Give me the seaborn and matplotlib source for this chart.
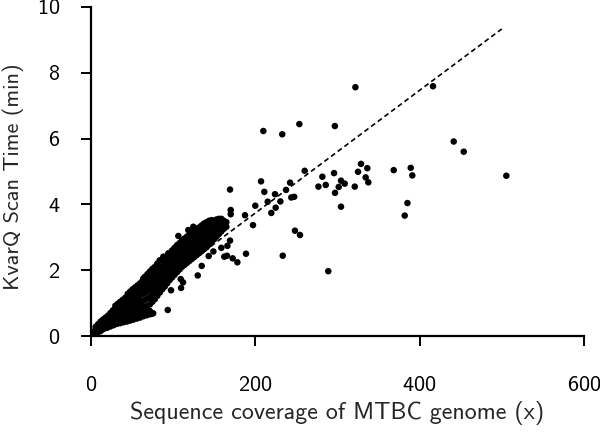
import pandas as pd
import matplotlib
matplotlib.use('Agg')
import matplotlib.pyplot as plt
import seaborn as sns

# dense main band of samples (coverage, minutes)
band = [
    (3, 0.05), (3, 0.12),
    (6, 0.08), (6, 0.2), (6, 0.28),
    (9, 0.12), (9, 0.25), (9, 0.36),
    (12, 0.18), (12, 0.3), (12, 0.44),
    (15, 0.22), (15, 0.36), (15, 0.5),
    (18, 0.3), (18, 0.42), (18, 0.56),
    (21, 0.36), (21, 0.48), (21, 0.62),
    (24, 0.42), (24, 0.56), (24, 0.7),
    (27, 0.5), (27, 0.64), (27, 0.78),
    (30, 0.6), (30, 0.72), (30, 0.84), (30, 0.92),
    (33, 0.65), (33, 0.78), (33, 0.9), (33, 0.98),
    (36, 0.68), (36, 0.82), (36, 0.95), (36, 1.04),
    (39, 0.71), (39, 0.86), (39, 1.0), (39, 1.1),
    (42, 0.73), (42, 0.88), (42, 1.03), (42, 1.16),
    (45, 0.75), (45, 0.9), (45, 1.06), (45, 1.2), (45, 1.28),
    (48, 0.77), (48, 0.93), (48, 1.09), (48, 1.22), (48, 1.35),
    (51, 0.79), (51, 0.96), (51, 1.12), (51, 1.28), (51, 1.42),
    (54, 0.81), (54, 0.98), (54, 1.16), (54, 1.32), (54, 1.48),
    (57, 0.83), (57, 1.0), (57, 1.2), (57, 1.38), (57, 1.54),
    (60, 0.85), (60, 1.03), (60, 1.24), (60, 1.42), (60, 1.6),
    (63, 0.87), (63, 1.06), (63, 1.28), (63, 1.48), (63, 1.68), (64, 1.75),
    (66, 0.89), (66, 1.1), (66, 1.32), (66, 1.52), (66, 1.7), (66, 1.8),
    (69, 0.92), (69, 1.14), (69, 1.36), (69, 1.56), (69, 1.76), (69, 1.88),
    (72, 0.96), (72, 1.18), (72, 1.4), (72, 1.6), (72, 1.8), (72, 1.96),
    (75, 1.04), (75, 1.26), (75, 1.46), (75, 1.66), (75, 1.86), (75, 2.04),
    (78, 1.12), (78, 1.32), (78, 1.52), (78, 1.72), (78, 1.92), (78, 2.1),
    (81, 1.22), (81, 1.42), (81, 1.6), (81, 1.78), (81, 1.98), (81, 2.2),
    (84, 1.32), (84, 1.5), (84, 1.68), (84, 1.86), (84, 2.06), (84, 2.3),
    (87, 1.42), (87, 1.58), (87, 1.76), (87, 1.94), (87, 2.12), (87, 2.32),
    (90, 1.5), (90, 1.66), (90, 1.84), (90, 2.02), (90, 2.2), (90, 2.38),
    (93, 1.6), (93, 1.75), (93, 1.92), (93, 2.1), (93, 2.28), (93, 2.44),
    (96, 1.7), (96, 1.84), (96, 2.0), (96, 2.18), (96, 2.36), (96, 2.52),
    (99, 1.78), (99, 1.92), (99, 2.08), (99, 2.26), (99, 2.44), (99, 2.6),
    (102, 1.86), (102, 2.0), (102, 2.16), (102, 2.34), (102, 2.52), (102, 2.68),
    (105, 1.94), (105, 2.1), (105, 2.26), (105, 2.42), (105, 2.6), (105, 2.76),
    (108, 2.02), (108, 2.18), (108, 2.34), (108, 2.5), (108, 2.66), (108, 2.82),
    (111, 2.1), (111, 2.26), (111, 2.42), (111, 2.58), (111, 2.74), (111, 2.9),
    (114, 2.16), (114, 2.32), (114, 2.48), (114, 2.64), (114, 2.8), (114, 2.96),
    (117, 2.22), (117, 2.38), (117, 2.54), (117, 2.7), (117, 2.86), (117, 3.02),
    (120, 2.28), (120, 2.44), (120, 2.6), (120, 2.76), (120, 2.92), (120, 3.08),
    (123, 2.34), (123, 2.5), (123, 2.66), (123, 2.82), (123, 2.98), (123, 3.14),
    (126, 2.4), (126, 2.56), (126, 2.72), (126, 2.88), (126, 3.04), (126, 3.2),
    (129, 2.46), (129, 2.62), (129, 2.78), (129, 2.94), (129, 3.1), (129, 3.26),
    (132, 2.52), (132, 2.68), (132, 2.84), (132, 3.0), (132, 3.16), (132, 3.3),
    (135, 2.58), (135, 2.74), (135, 2.9), (135, 3.06), (135, 3.22), (135, 3.36),
    (138, 2.64), (138, 2.8), (138, 2.96), (138, 3.12), (138, 3.28), (138, 3.42),
    (141, 2.7), (141, 2.86), (141, 3.02), (141, 3.18), (141, 3.32), (141, 3.46),
    (144, 2.78), (144, 2.94), (144, 3.1), (144, 3.24), (144, 3.38), (144, 3.5),
    (147, 2.86), (147, 3.0), (147, 3.16), (147, 3.3), (147, 3.44), (147, 3.52),
    (150, 2.94), (150, 3.08), (150, 3.22), (150, 3.36), (150, 3.5),
    (153, 3.02), (153, 3.16), (153, 3.3), (153, 3.42), (153, 3.54),
    (156, 3.1), (156, 3.24), (156, 3.38), (156, 3.5), (156, 3.56),
    (159, 3.18), (159, 3.3), (159, 3.44), (159, 3.56),
    (162, 3.26), (162, 3.38), (162, 3.5),
    (165, 3.32), (165, 3.46),
    (106.6, 3.04), (118.7, 3.22), (124.8, 3.32), (88.3, 2.41), (94.4, 2.51),
]

# thin lower band below the main one
lower = [
    (12, 0.15), (12, 0.27), (14, 0.2), (16, 0.22), (16, 0.33), (18, 0.28),
    (20, 0.25), (20, 0.4), (22, 0.33), (24, 0.29), (24, 0.44), (26, 0.37),
    (28, 0.33), (28, 0.49), (30, 0.41), (32, 0.37), (32, 0.52), (34, 0.45),
    (36, 0.39), (36, 0.55), (38, 0.47), (40, 0.42), (40, 0.57), (42, 0.5),
    (44, 0.44), (44, 0.59), (46, 0.52), (48, 0.47), (48, 0.62), (50, 0.55),
    (52, 0.5), (52, 0.64), (54, 0.57), (56, 0.53), (56, 0.66), (58, 0.6),
    (60, 0.56), (60, 0.69), (62, 0.63), (64, 0.6), (64, 0.72), (66, 0.66),
    (68, 0.63), (68, 0.74), (72, 0.66), (72, 0.76), (76, 0.69),
]

# scattered samples
scattered = [
    (74.6, 0.68), (93.7, 0.79), (97.7, 1.39), (109.5, 1.73), (112.3, 1.63),
    (109.9, 1.46), (130.2, 1.84), (135, 2.13), (143.5, 2.43), (149.2, 2.57),
    (158.9, 2.68), (166.3, 2.74), (169.5, 2.9), (162.5, 2.41), (165.8, 2.44),
    (172.7, 2.36), (178.4, 2.24), (188.9, 2.5), (170.3, 3.83), (170.3, 3.7),
    (169.5, 4.45), (187.7, 3.67), (197.4, 3.37), (200.2, 3.96),
    (322, 7.56), (416.4, 7.59), (210, 6.23), (233, 6.13), (253.8, 6.44),
    (297, 6.38), (441.6, 5.91), (453.8, 5.6), (505.6, 4.87), (368.6, 5.04),
    (389.3, 5.11), (391.2, 4.88), (328.8, 5.23), (336.5, 5.1), (325.2, 4.99),
    (334.5, 4.82), (337.7, 4.67), (296, 4.95), (304.5, 4.72), (309, 4.63),
    (301.7, 4.53), (321.2, 4.54), (297.2, 4.35), (281.8, 4.84), (285.9, 4.59),
    (277, 4.54), (260.3, 5.02), (242.5, 4.66), (237.6, 4.44), (207.2, 4.7),
    (211.2, 4.38), (224.2, 4.31), (244, 4.21), (247.5, 4.23), (304.5, 3.93),
    (385.3, 4.04), (382, 3.66), (289, 1.97), (254.6, 3.07), (248.5, 3.2),
    (233.6, 2.44), (215.3, 4.08), (219.7, 3.74), (225, 3.9), (230.7, 4.09),
]

# dashed fit line end points
fit_x = [0, 500]
fit_y = [0, 9.33]

df = pd.DataFrame(band + lower + scattered, columns=['coverage', 'minutes'])

sns.set_style('ticks')
plt.rcParams['font.family'] = ['cmss10', 'DejaVu Sans']
plt.rcParams['axes.unicode_minus'] = False
plt.rcParams['axes.formatter.use_mathtext'] = True

fig = plt.figure(figsize=(6, 4.33), dpi=100)
ax = fig.add_axes([0.1512, 0.224, 0.822, 0.760])

sns.scatterplot(data=df, x='coverage', y='minutes', color='black',
                s=22, edgecolor='none', ax=ax, zorder=3)
ax.plot(fit_x, fit_y, color='black', linestyle=(0, (3, 2)), linewidth=1.2, zorder=2)

ax.set_xlim(0, 600)
ax.set_ylim(0, 10)
ax.set_xticks([0, 200, 400, 600])
ax.set_yticks([0, 2, 4, 6, 8, 10])

sns.despine(ax=ax)
for side in ['left', 'bottom']:
    ax.spines[side].set_linewidth(1.6)
    ax.spines[side].set_color('black')
ax.tick_params(axis='both', direction='out', length=7, width=1.4,
               colors='black', labelsize=16)
ax.tick_params(axis='x', pad=22)
ax.tick_params(axis='y', pad=15)

ax.set_xlabel('Sequence coverage of MTBC genome (x)', fontsize=17.3)
ax.set_ylabel('KvarQ Scan Time (min)', fontsize=16)
ax.xaxis.set_label_coords(0.5, -0.234)
ax.xaxis.label.set_va('center')
ax.yaxis.set_label_coords(-0.1575, 0.483)
ax.yaxis.label.set_va('center')

fig.savefig('out.png', dpi=100)
